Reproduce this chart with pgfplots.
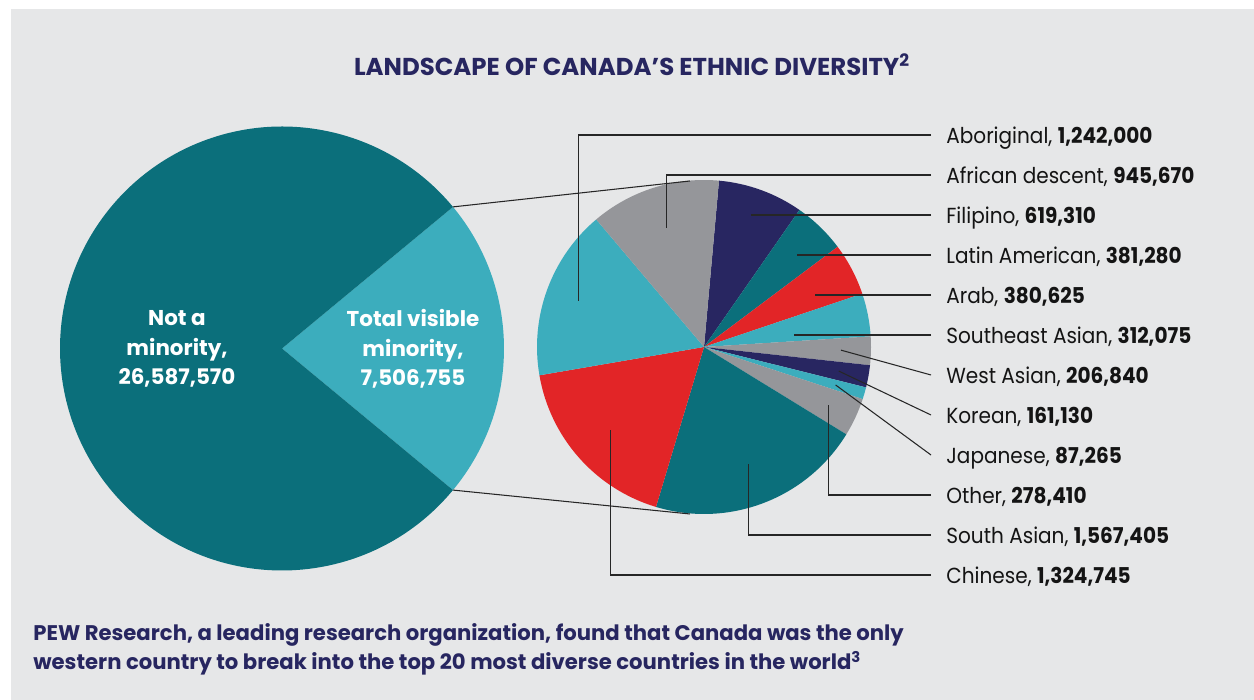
\documentclass[border=0pt]{standalone}
\usepackage{fontspec}
\setmainfont{Poppins}
\newfontfamily\labfont{Poppins}[FakeStretch=0.92]
\usepackage{pgfplots}
\usepackage{pgfplotstable}
\pgfplotsset{compat=1.18}

\definecolor{cTeal}{HTML}{0B6F7B}
\definecolor{cLight}{HTML}{3CADBD}
\definecolor{cRed}{HTML}{E22527}
\definecolor{cGray}{HTML}{95969A}
\definecolor{cNavy}{HTML}{282661}
\definecolor{bg}{HTML}{E6E7E8}
\definecolor{ink}{HTML}{272660}

% small pie, clockwise from the top; lab = row of the label on the right
\pgfplotstableread[col sep=comma]{
name,value,colour,lab,rf,kind
Filipino,619310,cNavy,2,0.82,h
Latin American,381280,cTeal,3,0.80,h
Arab,380625,cRed,4,0.75,h
Southeast Asian,312075,cLight,5,0.55,h
West Asian,206840,cGray,6,0.82,s
Korean,161130,cNavy,7,0.82,s
Japanese,87265,cLight,8,0.82,s
Other,278410,cGray,9,0.82,e
South Asian,1567405,cTeal,10,0.75,e
Chinese,1324745,cRed,11,0.75,e
Aboriginal,1242000,cLight,0,0.80,e
African descent,945670,cGray,1,0.75,e
}\smallpie

\pgfplotstableread[col sep=comma]{
name,value,colour,lab,rf,kind
Total visible minority,7506755,cLight,0,0.6,h
Not a minority,26587570,cTeal,0,0.6,h
}\bigpie

\newcommand\fpuset[1]{\begingroup\pgfkeys{/pgf/fpu=true,/pgf/fpu/output format=fixed}#1\endgroup}

% #1 table, #2 cx, #3 cy, #4 radius, #5 angle at the middle of the first slice, #6 prefix
\newcommand\drawpie[6]{%
  \pgfplotstablegetrowsof{#1}%
  \pgfmathtruncatemacro\pielast{\pgfplotsretval-1}%
  \gdef\pietot{0}%
  \foreach \i in {0,...,\pielast}{%
    \pgfplotstablegetelem{\i}{value}\of#1\edef\pieval{\pgfplotsretval}%
    \fpuset{\pgfmathparse{\pietot+\pieval}\xdef\pietot{\pgfmathresult}}%
  }%
  \pgfplotstablegetelem{0}{value}\of#1\edef\pieval{\pgfplotsretval}%
  \fpuset{\pgfmathparse{#5+\pieval/\pietot*180}\xdef\pieang{\pgfmathresult}}%
  \foreach \i in {0,...,\pielast}{%
    \pgfplotstablegetelem{\i}{value}\of#1\edef\pieval{\pgfplotsretval}%
    \pgfplotstablegetelem{\i}{colour}\of#1\edef\piecol{\pgfplotsretval}%
    \pgfplotstablegetelem{\i}{rf}\of#1\edef\pierf{\pgfplotsretval}%
    \fpuset{\pgfmathparse{\pieval/\pietot*360}\xdef\piespan{\pgfmathresult}}%
    \pgfmathsetmacro\aend{\pieang-\piespan}%
    \pgfmathsetmacro\amid{\pieang-\piespan/2}%
    \fill[\piecol] (axis cs:#2,#3) -- (axis cs:{#2+#4*cos(\pieang)},{#3+#4*sin(\pieang)})
      arc[start angle=\pieang, end angle=\aend, radius=#4*0.2mm] -- cycle;
    \coordinate (#6s\i) at (axis cs:{#2+#4*cos(\pieang)},{#3+#4*sin(\pieang)});
    \coordinate (#6e\i) at (axis cs:{#2+#4*cos(\aend)},{#3+#4*sin(\aend)});
    \coordinate (#6\i) at (axis cs:{#2+\pierf*#4*cos(\amid)},{#3+\pierf*#4*sin(\amid)});
    \xdef\pieang{\aend}%
  }%
}

\def\kindh{h}
\def\kinds{s}
\newcommand\labsize{\labfont\fontsize{12.4}{15}\selectfont}
\newcommand\num[1]{\pgfmathprintnumber[fixed,precision=0,1000 sep={,},assume math mode=true]{#1}}

\begin{document}
\begin{tikzpicture}
\begin{axis}[x=0.2mm, y=0.2mm, xmin=0, xmax=1254, ymin=0, ymax=700,
  hide axis, clip=false]
\pgfplotsextra{
  \fill[white] (axis cs:0,0) rectangle (axis cs:1254,700);
  \fill[bg] (axis cs:11,0) rectangle (axis cs:1254,691);

  \drawpie{\bigpie}{282}{351.5}{222}{0}{bg}
  \drawpie{\smallpie}{704}{353}{167}{70}{sm}

  % connectors between the two pies
  \draw[line width=0.6pt, black!85] (bgs0) -- (axis cs:690,519);
  \draw[line width=0.6pt, black!85] (bge0) -- (axis cs:690,186);

  % text in the big pie
  \pgfplotstablegetelem{1}{value}\of\bigpie\edef\vnot{\pgfplotsretval}
  \pgfplotstablegetelem{0}{value}\of\bigpie\edef\vvis{\pgfplotsretval}
  \node[white, font=\fontsize{12.2}{16.8}\selectfont\bfseries, align=center]
    at (axis cs:177,351) {Not a\\minority,\\\num{\vnot}};
  \node[white, font=\fontsize{12.2}{16.8}\selectfont\bfseries, align=center]
    at (axis cs:413,351) {Total visible\\minority,\\\num{\vvis}};

  % labels and leader lines of the small pie
  \foreach \i in {0,...,11}{
    \pgfplotstablegetelem{\i}{name}\of\smallpie\edef\rowname{\pgfplotsretval}
    \pgfplotstablegetelem{\i}{value}\of\smallpie\edef\rowval{\pgfplotsretval}
    \pgfplotstablegetelem{\i}{lab}\of\smallpie\edef\rowlab{\pgfplotsretval}
    \pgfplotstablegetelem{\i}{kind}\of\smallpie\edef\rowkind{\pgfplotsretval}
    \coordinate (L) at (axis cs:931,{565-40*\rowlab});
    \ifx\rowkind\kindh
      \draw[line width=0.6pt, black!85] (L) -- (L -| sm\i);
    \else\ifx\rowkind\kinds
      \draw[line width=0.6pt, black!85] (L) -- (sm\i);
    \else
      \draw[line width=0.6pt, black!85] (L) -| (sm\i);
    \fi\fi
    \node[anchor=base west, inner sep=0pt, font=\labsize, text=black!92]
      at (axis cs:946,{556-40*\rowlab}) {\rowname, \textbf{\num{\rowval}}};
  }

  % title and footnote
  \node[anchor=base, inner sep=0pt, text=ink, font=\fontsize{13.9}{16}\selectfont\bfseries]
    at (axis cs:632,624) {LANDSCAPE OF CANADA’S ETHNIC DIVERSITY\textsuperscript{2}};
  \node[anchor=base west, inner sep=0pt, text=ink, font=\fontsize{12.05}{15}\selectfont\bfseries]
    at (axis cs:33,59) {PEW Research, a leading research organization, found that Canada was the only};
  \node[anchor=base west, inner sep=0pt, text=ink, font=\fontsize{12.05}{15}\selectfont\bfseries]
    at (axis cs:33,30) {western country to break into the top 20 most diverse countries in the world\textsuperscript{3}};
}
\end{axis}
\end{tikzpicture}
\end{document}
